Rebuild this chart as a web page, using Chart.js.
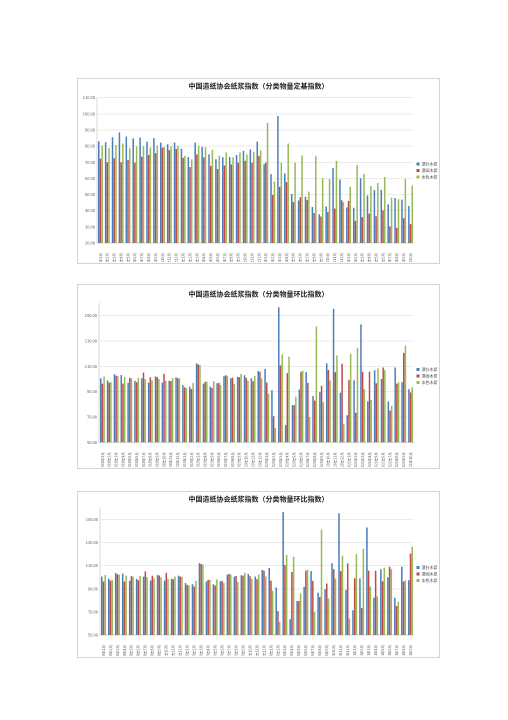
<!DOCTYPE html>
<html lang="zh">
<head>
    <meta charset="UTF-8">
    <title>中国造纸协会纸浆指数</title>
    <script src="https://cdn.jsdelivr.net/npm/chart.js@4.4.1/dist/chart.umd.min.js"></script>
    <style>
        body {
            margin: 0;
            background: #ffffff;
            width: 508px;
            height: 720px;
            position: relative;
            overflow: hidden;
        }
        .box {
            position: absolute;
            left: 77px;
            width: 363px;
            border: 1px solid #d4d4d4;
            box-sizing: border-box;
            background: #fff;
        }
        #box1 { top: 78px; height: 186px; }
        #box2 { top: 284px; height: 185px; }
        #box3 { top: 491px; height: 167px; }
    </style>
</head>
<body>
    <div class="box" id="box1"><canvas id="chart1"></canvas></div>
    <div class="box" id="box2"><canvas id="chart2"></canvas></div>
    <div class="box" id="box3"><canvas id="chart3"></canvas></div>

    <script>
        // month labels, 2018年1月 .. 2021年10月
        const months = [
            "2018年1月", "2018年2月", "2018年3月", "2018年4月", "2018年5月", "2018年6月",
            "2018年7月", "2018年8月", "2018年9月", "2018年10月", "2018年11月", "2018年12月",
            "2019年1月", "2019年2月", "2019年3月", "2019年4月", "2019年5月", "2019年6月",
            "2019年7月", "2019年8月", "2019年9月", "2019年10月", "2019年11月", "2019年12月",
            "2020年1月", "2020年2月", "2020年3月", "2020年4月", "2020年5月", "2020年6月",
            "2020年7月", "2020年8月", "2020年9月", "2020年10月", "2020年11月", "2020年12月",
            "2021年1月", "2021年2月", "2021年3月", "2021年4月", "2021年5月", "2021年6月",
            "2021年7月", "2021年8月", "2021年9月", "2021年10月"
        ];

        const seriesNames = ["漂针木浆", "漂阔木浆", "本色木浆"];

        // y tick labels
        const baseTicks = [20, 30, 40, 50, 60, 70, 80, 90, 100, 110];
        const momTicks = [50, 70, 90, 110, 130, 150];

        // 定基指数
        const baseNeedle = [
            83.0, 82.4, 85.5, 88.5, 85.9, 84.8, 85.3, 82.8, 85.0, 82.2, 81.2, 82.2,
            78.4, 73.3, 82.2, 79.6, 74.9, 71.9, 73.1, 73.3, 74.5, 77.1, 77.9, 82.8,
            68.8, 62.7, 98.6, 63.1, 50.4, 46.3, 48.7, 42.3, 37.8, 42.7, 66.4, 59.3,
            42.0, 41.8, 60.1, 49.4, 52.8, 52.8, 43.9, 47.9, 46.9, 42.9
        ];
        const baseHardwood = [
            72.3, 70.0, 72.5, 70.0, 71.5, 69.8, 73.5, 74.5, 75.7, 79.0, 77.5, 78.2,
            72.7, 67.0, 74.9, 73.0, 67.8, 65.8, 68.0, 68.6, 69.8, 70.9, 69.8, 73.9,
            69.8, 49.8, 54.8, 57.7, 45.3, 48.3, 46.7, 38.6, 36.4, 39.2, 41.4, 46.5,
            46.1, 33.7, 36.0, 38.2, 36.6, 40.2, 30.3, 29.3, 35.4, 31.7
        ];
        const baseUnbleached = [
            80.4, 78.8, 80.6, 81.6, 78.8, 79.8, 80.0, 79.2, 80.2, 79.5, 79.8, 80.2,
            74.0, 71.9, 80.4, 79.2, 77.8, 74.0, 76.1, 73.1, 76.1, 74.9, 76.5, 77.3,
            94.4, 58.1, 69.8, 81.6, 69.8, 74.3, 51.8, 73.7, 60.1, 59.7, 70.9, 45.3,
            54.8, 68.2, 62.9, 55.4, 57.1, 60.9, 48.1, 47.1, 59.7, 55.6
        ];

        // 环比指数
        const momNeedle = [
            100.6, 98.9, 103.7, 103.1, 97.0, 98.6, 100.6, 97.1, 102.0, 97.1, 98.6, 101.4,
            95.1, 94.0, 112.3, 96.3, 94.0, 96.6, 102.3, 100.6, 101.7, 102.9, 100.6, 106.3,
            108.0, 91.1, 156.6, 63.7, 79.4, 91.7, 105.4, 86.6, 89.7, 112.3, 155.4, 89.1,
            71.4, 98.9, 143.1, 82.3, 106.9, 100.0, 82.3, 109.1, 97.4, 92.0
        ];
        const momHardwood = [
            96.3, 97.1, 102.6, 96.3, 101.0, 97.4, 105.1, 101.4, 101.5, 103.9, 98.3, 100.6,
            93.4, 92.0, 111.4, 97.7, 92.9, 96.9, 102.9, 101.1, 101.4, 100.9, 98.3, 105.7,
            97.1, 70.6, 110.6, 104.6, 79.4, 105.7, 96.9, 82.9, 94.6, 107.1, 105.4, 112.0,
            99.1, 73.4, 105.7, 105.7, 96.6, 109.1, 75.1, 96.3, 120.6, 89.4
        ];
        const momUnbleached = [
            102.0, 97.7, 102.3, 101.4, 100.5, 101.1, 100.0, 99.0, 100.0, 98.6, 100.6, 100.6,
            92.9, 96.9, 111.1, 98.0, 98.3, 95.1, 102.3, 96.0, 103.9, 98.6, 102.3, 100.6,
            88.3, 61.4, 119.4, 117.7, 86.0, 106.6, 70.0, 141.4, 81.7, 98.9, 118.6, 64.3,
            120.0, 124.6, 92.0, 83.4, 108.3, 107.1, 78.9, 97.4, 126.3, 93.5
        ];

        const barColors = ["#4A7EBB", "#BE4B48", "#98B954"];
        const fontFamily = "'Noto Sans CJK SC', 'Noto Sans', sans-serif";

        function makeChart(id, title, labels, series, yMin, yMax, yTicks, dims) {
            const ctx = document.getElementById(id).getContext('2d');
            return new Chart(ctx, {
                type: 'bar',
                data: {
                    labels: labels,
                    datasets: series.map((s, i) => ({
                        label: seriesNames[i],
                        data: s,
                        backgroundColor: barColors[i],
                        borderWidth: 0,
                        categoryPercentage: 0.74,
                        barPercentage: 0.88
                    }))
                },
                options: {
                    responsive: true,
                    maintainAspectRatio: false,
                    animation: false,
                    devicePixelRatio: 2,
                    layout: { padding: { left: 0, right: 0, top: 0, bottom: 1 } },
                    plugins: {
                        title: {
                            display: true,
                            text: title,
                            color: '#222',
                            font: { family: fontFamily, size: 7, weight: 'bold' },
                            padding: { top: dims.titleTop, bottom: dims.titleBottom }
                        },
                        legend: {
                            position: 'right',
                            maxWidth: 25,
                            labels: {
                                boxWidth: 3,
                                boxHeight: 3,
                                padding: 2.5,
                                color: '#444',
                                font: { family: fontFamily, size: 4 }
                            }
                        },
                        tooltip: { enabled: false }
                    },
                    scales: {
                        x: {
                            grid: { display: false },
                            border: { color: '#bfbfbf', width: 0.6 },
                            ticks: {
                                autoSkip: false,
                                minRotation: 90,
                                maxRotation: 90,
                                padding: 2,
                                color: '#555',
                                font: { family: fontFamily, size: 3.5 }
                            },
                            afterFit: s => { s.height = dims.xHeight; }
                        },
                        y: {
                            min: yMin,
                            max: yMax,
                            ticks: {
                                padding: 2,
                                color: '#555',
                                font: { family: fontFamily, size: 4 },
                                callback: v => v.toFixed(2)
                            },
                            afterBuildTicks: s => {
                                s.ticks = yTicks.map(v => ({ value: v }));
                            },
                            grid: { color: '#d9d9d9', lineWidth: 0.6, drawTicks: false },
                            border: { color: '#bfbfbf', width: 0.6 },
                            afterFit: s => { s.width = dims.yWidth; }
                        }
                    }
                }
            });
        }

        makeChart('chart1', '中国造纸协会纸浆指数（分类物量定基指数）', months,
            [baseNeedle, baseHardwood, baseUnbleached], 20, 110, baseTicks,
            { titleTop: 2.5, titleBottom: 7.8, xHeight: 19, yWidth: 19 });

        makeChart('chart2', '中国造纸协会纸浆指数（分类物量环比指数）', months,
            [momNeedle, momHardwood, momUnbleached], 50, 160, momTicks,
            { titleTop: 4.8, titleBottom: 4.8, xHeight: 24.7, yWidth: 21 });

        makeChart('chart3', '中国造纸协会纸浆指数（分类物量环比指数）', months.slice(0, 45),
            [momNeedle.slice(0, 45), momHardwood.slice(0, 45), momUnbleached.slice(0, 45)], 50, 160, momTicks,
            { titleTop: 2.8, titleBottom: 4.8, xHeight: 21, yWidth: 22 });
    </script>
</body>
</html>
